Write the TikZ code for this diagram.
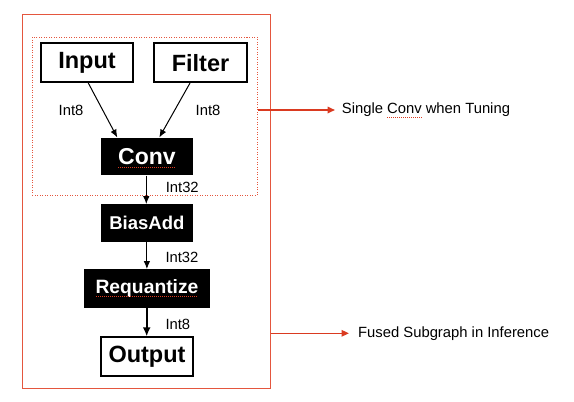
\documentclass[tikz,border=0pt]{standalone}
\usepackage{fontspec}
\setmainfont{Liberation Sans}
\usetikzlibrary{arrows.meta,calc}
\definecolor{boxred}{RGB}{228,86,62}
\definecolor{arrred}{RGB}{218,58,32}
\tikzset{
  wbox/.style={draw=black,line width=2pt,fill=white,inner sep=0pt,font=\bfseries\fontsize{23.5}{27}\selectfont},
  bbox/.style={fill=black,text=white,inner sep=0pt,font=\bfseries\fontsize{18.5}{22}\selectfont},
  lbl/.style={inner sep=0pt,font=\fontsize{14.8}{17}\selectfont},
  note/.style={inner sep=0pt,anchor=west,font=\fontsize{14.8}{17}\selectfont},
  flow/.style={line width=1pt,-{Latex[length=8pt,width=6.5pt]}},
  redarr/.style={arrred,line width=1.6pt,-{Triangle[length=7.5pt,width=6.5pt]}},
  spell/.style={arrred,line width=0.8pt,dash pattern=on 1pt off 1pt},
}
\begin{document}
\begin{tikzpicture}[x=1pt,y=-1pt]
\useasboundingbox (0,0) rectangle (574,402);
% containers
\node[draw=boxred,line width=0.9pt,minimum width=248pt,minimum height=374pt,inner sep=0pt] (outer) at (146.5,201) {};
\node[draw=boxred,line width=0.7pt,dash pattern=on 1pt off 1.5pt,minimum width=225pt,minimum height=157.7pt,inner sep=0pt] (tune) at (144.8,116.15) {};
% nodes
\node[wbox,minimum width=92.6pt,minimum height=38.7pt] (in) at (87,62.7) {Input};
\node[wbox,minimum width=92.4pt,minimum height=38.7pt] (filt) at (200.5,62.7) {Filter};
\node[bbox,minimum width=91.7pt,minimum height=37.6pt,font=\bfseries\fontsize{23}{26}\selectfont] (conv) at (146.9,156.5) {Conv};
\node[bbox,minimum width=91.7pt,minimum height=37.4pt] (bias) at (146.9,223) {BiasAdd};
\node[bbox,minimum width=126pt,minimum height=38.4pt,font=\bfseries\fontsize{19.3}{22}\selectfont] (req) at (147,288.5) {Requantize};
\node[wbox,minimum width=92.6pt,minimum height=38.7pt] (out) at (147,356.7) {Output};
% spell-check marks
\draw[spell] (118,167) -- (175,167);
\draw[spell] (96,296.5) -- (197,296.5);
% connectors
\draw[flow] ($(in.south)+(1.3,0)$) -- ($(conv.north)+(-29.6,0)$);
\draw[flow] ($(filt.south)+(-10.5,0)$) -- ($(conv.north)+(12.4,0)$);
\draw[flow] ($(conv.south)+(-0.6,0)$) -- ($(bias.north)+(-0.6,0)$);
\draw[flow] (bias.south) -- (req.north -| bias.south);
\draw[line width=2pt,-{Latex[length=9pt,width=8pt]}] ($(req.south)+(-0.3,0)$) -- ($(out.north)+(-0.3,0)$);
% labels
\node[lbl] (l1) at (71,110) {Int8};
\node[lbl] (l2) at (208,110) {Int8};
\node[lbl,anchor=west] (l3) at (165.6,187) {Int32};
\node[lbl,anchor=west] (l4) at (165.3,257) {Int32};
\node[lbl,anchor=west] (l5) at (165.3,324) {Int8};
% side notes
\coordinate (a1) at (tune.east |- 0,110);
\coordinate (a1e) at (335,110);
\draw[redarr] (a1) -- (a1e);
\node[note] (n1) at (341.7,110) {Single Conv when Tuning};
\draw[spell] (387.3,117) -- (421.7,117);
\coordinate (a2) at (outer.east |- 0,333.3);
\coordinate (a2e) at (349,333.3);
\draw[redarr] (a2) -- (a2e);
\node[note] (n2) at (358,333.3) {Fused Subgraph in Inference};
\end{tikzpicture}
\end{document}
